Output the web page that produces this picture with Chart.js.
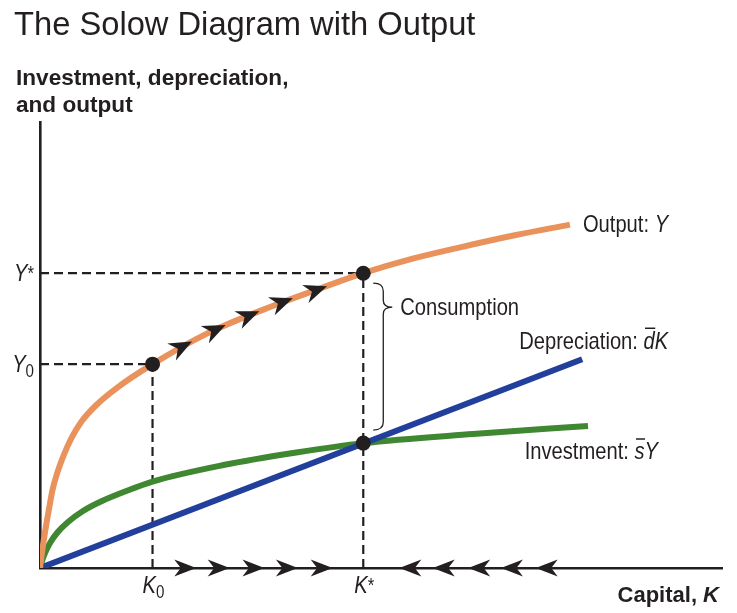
<!DOCTYPE html>
<html>
<head>
<meta charset="utf-8">
<script src="https://cdn.jsdelivr.net/npm/chart.js@4.4.1/dist/chart.umd.min.js"></script>
<style>
  html, body { margin: 0; padding: 0; background: #ffffff; }
  #wrap { width: 737px; height: 613px; position: relative; }
  canvas { display: block; }
</style>
</head>
<body>
<div id="wrap"><canvas id="chart" width="737" height="613"></canvas></div>
<script>
// ---------- DATA (axis units 0-100) ----------
const outputK = [0, 0.22, 0.51, 0.88, 1.32, 1.83, 2.57, 3.45, 4.59, 6.06, 8.26, 11.19, 16.5, 24.4, 34.2, 40.6, 47.4, 54.5, 61.6, 69.6, 77.7];
const outputY = [0, 2.69, 5.83, 9.42, 13.23, 17.49, 21.52, 25.22, 29.08, 32.80, 36.55, 40.29, 45.7, 52.5, 58.8, 62.4, 66.1, 69.3, 71.9, 74.6, 77.0];

const investK = [0, 0.29, 0.73, 1.47, 2.49, 4.11, 6.30, 9.09, 12.46, 16.5, 26.9, 37.6, 47.4, 63.5, 80.35];
const investY = [0, 1.57, 3.36, 5.61, 7.85, 10.31, 12.78, 15.02, 17.15, 19.39, 23.09, 25.90, 28.0, 30.04, 31.84];

const deprecK = [0, 79.5];
const deprecY = [0, 46.8];

const xTickValues = [16.5, 47.4];          // K0, K*
const xTickLabels = [['K', '0'], ['K', '*']];
const yTickValues = [45.7, 66.1];          // Y0, Y*
const yTickLabels = [['Y', '0'], ['Y', '*']];
const investAtKstar = 28.0;

const curveArrowK = [20.8, 25.7, 30.6, 35.5, 40.5];
const curveArrowY = [49.6, 53.4, 56.6, 59.6, 62.3];
const axisArrowRightK = [21.3, 26.2, 31.3, 36.2, 41.3];
const axisArrowLeftK = [54.3, 59.2, 64.4, 69.2, 74.3];

const titleText = 'The Solow Diagram with Output';
const yTitleLines = ['Investment, depreciation,', 'and output'];
const xTitleParts = ['Capital, ', 'K'];
const outputLabel = ['Output: ', 'Y'];
const deprecLabel = ['Depreciation: ', 'd', 'K'];
const investLabel = ['Investment: ', 's', 'Y'];
const consumptionLabel = 'Consumption';

// ---------- STYLE ----------
const INK = '#231f20';
const ORANGE = '#ea925c';
const BLUE = '#22409b';
const GREEN = '#3f8730';
const SANS = '"Liberation Sans", Arial, Helvetica, sans-serif';
const COND = 0.84;   // horizontal squeeze to imitate a condensed face

const zip = (xs, ys) => xs.map((x, i) => ({ x: x, y: ys[i] }));

const dashStyle = {
  borderColor: INK, borderWidth: 2.2, borderDash: [9, 5], pointRadius: 0,
  showLine: true, fill: false, tension: 0
};

const datasets = [
  {
    label: 'dots',
    data: [
      { x: xTickValues[0], y: yTickValues[0] },
      { x: xTickValues[1], y: yTickValues[1] },
      { x: xTickValues[1], y: investAtKstar }
    ],
    showLine: false, pointRadius: 7.5, pointBackgroundColor: INK, pointBorderWidth: 0
  },
  { label: 'Output', data: zip(outputK, outputY), borderColor: ORANGE, borderWidth: 6,
    showLine: true, pointRadius: 0, cubicInterpolationMode: 'monotone', borderCapStyle: 'butt' },
  { label: 'Depreciation', data: zip(deprecK, deprecY), borderColor: BLUE, borderWidth: 6,
    showLine: true, pointRadius: 0, borderCapStyle: 'butt' },
  { label: 'Investment', data: zip(investK, investY), borderColor: GREEN, borderWidth: 6,
    showLine: true, pointRadius: 0, cubicInterpolationMode: 'monotone', borderCapStyle: 'butt' },
  Object.assign({ label: 'dY*', data: [{ x: 0, y: yTickValues[1] }, { x: xTickValues[1], y: yTickValues[1] }] }, dashStyle),
  Object.assign({ label: 'dY0', data: [{ x: 0, y: yTickValues[0] }, { x: xTickValues[0], y: yTickValues[0] }] }, dashStyle),
  Object.assign({ label: 'dK0', data: [{ x: xTickValues[0], y: 0 }, { x: xTickValues[0], y: yTickValues[0] }] }, dashStyle),
  Object.assign({ label: 'dK*', data: [{ x: xTickValues[1], y: 0 }, { x: xTickValues[1], y: yTickValues[1] }] }, dashStyle)
];

// draws a row of text pieces; sx = horizontal scale
function drawRuns(ctx, parts, x, y, align, sx) {
  sx = sx || 1;
  let w = 0;
  parts.forEach(p => { ctx.font = p.f; p.w = ctx.measureText(p.t).width * sx; w += p.w; });
  let cx = align === 'right' ? x - w : (align === 'center' ? x - w / 2 : x);
  parts.forEach(p => {
    ctx.save();
    ctx.font = p.f;
    ctx.translate(cx, y + (p.dy || 0));
    ctx.scale(sx, 1);
    ctx.fillText(p.t, 0, 0);
    ctx.restore();
    if (p.bar) {
      ctx.save();
      ctx.lineWidth = 1.5;
      ctx.strokeStyle = INK;
      ctx.beginPath();
      ctx.moveTo(cx + p.bar[0], y - p.bar[2]);
      ctx.lineTo(cx + p.w + p.bar[1], y - p.bar[2]);
      ctx.stroke();
      ctx.restore();
    }
    cx += p.w;
  });
}

function arrowHead(ctx, x, y, ang, L, W, notch) {
  ctx.save();
  ctx.translate(x, y);
  ctx.rotate(ang);
  ctx.beginPath();
  ctx.moveTo(L / 2, 0);
  ctx.lineTo(-L / 2, -W / 2);
  ctx.lineTo(-L / 2 + notch, 0);
  ctx.lineTo(-L / 2, W / 2);
  ctx.closePath();
  ctx.fillStyle = INK;
  ctx.fill();
  ctx.restore();
}

const decorPlugin = {
  id: 'decor',
  afterDraw(chart) {
    const ctx = chart.ctx;
    const xs = chart.scales.x, ys = chart.scales.y;
    const ca = chart.chartArea;
    const px = v => xs.getPixelForValue(v);
    const py = v => ys.getPixelForValue(v);
    ctx.save();
    ctx.fillStyle = INK;
    ctx.textBaseline = 'alphabetic';
    ctx.textAlign = 'left';

    // Title & axis titles
    ctx.font = '32.7px ' + SANS;
    ctx.fillText(titleText, 14, 35);
    ctx.font = 'bold 22.6px ' + SANS;
    ctx.fillText(yTitleLines[0], 16, 85);
    ctx.fillText(yTitleLines[1], 16, 111.5);
    drawRuns(ctx, [
      { t: xTitleParts[0], f: 'bold 22px ' + SANS },
      { t: xTitleParts[1], f: 'italic bold 22px ' + SANS }
    ], ca.right - 3, 601.5, 'right');

    // Tick labels
    const it = 'italic 24px ' + SANS;
    const sub = '18px ' + SANS;
    const star = '20px ' + SANS;
    yTickValues.forEach((v, i) => {
      const lab = yTickLabels[i];
      const parts = lab[1] === '0'
        ? [{ t: lab[0], f: it }, { t: lab[1], f: sub, dy: 5 }]
        : [{ t: lab[0], f: it }, { t: lab[1], f: star, dy: -1 }];
      drawRuns(ctx, parts, ca.left - 6, py(v) + 8, 'right', COND);
    });
    xTickValues.forEach((v, i) => {
      const lab = xTickLabels[i];
      const parts = lab[1] === '0'
        ? [{ t: lab[0], f: it }, { t: lab[1], f: sub, dy: 5 }]
        : [{ t: lab[0], f: it }, { t: lab[1], f: star, dy: -1 }];
      drawRuns(ctx, parts, px(v) + 1, ca.bottom + 25, 'center', COND);
    });

    // Arrows along the output curve
    const pts = curveArrowK.map((k, i) => ({ x: px(k), y: py(curveArrowY[i]) }));
    pts.forEach((p, i) => {
      const a = pts[Math.max(0, i - 1)], b = pts[Math.min(pts.length - 1, i + 1)];
      const ang = Math.atan2(b.y - a.y, b.x - a.x);
      arrowHead(ctx, p.x, p.y, ang, 23, 19, 7);
    });
    // Arrows along the capital axis
    axisArrowRightK.forEach(k => arrowHead(ctx, px(k), py(0), 0, 22, 17, 6.5));
    axisArrowLeftK.forEach(k => arrowHead(ctx, px(k), py(0), Math.PI, 22, 17, 6.5));

    // Consumption brace
    const bx = px(xTickValues[1]) + 10;
    const top = py(yTickValues[1]) + 10;
    const bot = py(investAtKstar) - 13;
    const mid = top + 24;
    ctx.lineWidth = 1.3;
    ctx.strokeStyle = INK;
    ctx.beginPath();
    ctx.moveTo(bx, top);
    ctx.quadraticCurveTo(bx + 10, top, bx + 10, top + 8);
    ctx.lineTo(bx + 10, mid - 7);
    ctx.quadraticCurveTo(bx + 10, mid, bx + 19, mid);
    ctx.quadraticCurveTo(bx + 10, mid, bx + 10, mid + 7);
    ctx.lineTo(bx + 10, bot - 8);
    ctx.quadraticCurveTo(bx + 10, bot, bx, bot);
    ctx.stroke();

    // Curve labels
    const lf = '24px ' + SANS;
    const lfi = 'italic 24px ' + SANS;
    drawRuns(ctx, [{ t: consumptionLabel, f: lf }], bx + 27, mid + 8, 'left', COND);

    const oEnd = { x: px(outputK[outputK.length - 1]), y: py(outputY[outputY.length - 1]) };
    drawRuns(ctx, [{ t: outputLabel[0], f: lf }, { t: outputLabel[1], f: lfi }], oEnd.x + 13, oEnd.y + 7, 'left', COND);

    const dEnd = { x: px(deprecK[deprecK.length - 1]), y: py(deprecY[deprecY.length - 1]) };
    drawRuns(ctx, [
      { t: deprecLabel[0], f: lf },
      { t: deprecLabel[1], f: lfi, bar: [1.5, 0.5, 21] },
      { t: deprecLabel[2], f: lfi }
    ], dEnd.x + 86, dEnd.y - 10, 'right', COND);

    const iEnd = { x: px(investK[investK.length - 1]), y: py(investY[investY.length - 1]) };
    drawRuns(ctx, [
      { t: investLabel[0], f: lf },
      { t: investLabel[1], f: lfi, bar: [1.5, 0.5, 20] },
      { t: investLabel[2], f: lfi }
    ], iEnd.x + 70, iEnd.y + 33, 'right', COND);

    ctx.restore();
  }
};

new Chart(document.getElementById('chart'), {
  type: 'scatter',
  data: { datasets: datasets },
  options: {
    responsive: false,
    devicePixelRatio: 1,
    animation: false,
    events: [],
    layout: { padding: { left: 40, right: 15, top: 122, bottom: 45 } },
    plugins: { legend: { display: false }, tooltip: { enabled: false }, title: { display: false } },
    scales: {
      x: {
        type: 'linear', min: 0, max: 100,
        ticks: { display: false },
        grid: { display: false, drawTicks: false },
        border: { display: true, color: INK, width: 2.6 }
      },
      y: {
        type: 'linear', min: 0, max: 100,
        ticks: { display: false },
        grid: { display: false, drawTicks: false },
        border: { display: true, color: INK, width: 2.6 }
      }
    }
  },
  plugins: [decorPlugin]
});
</script>
</body>
</html>
